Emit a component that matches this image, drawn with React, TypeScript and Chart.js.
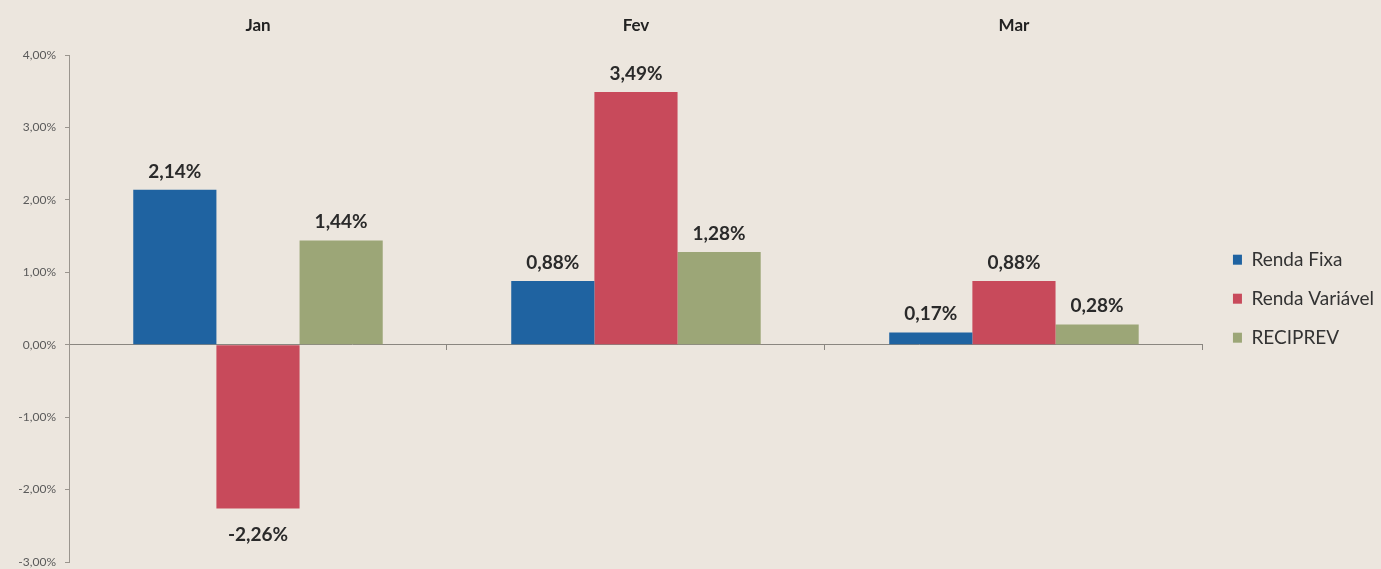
import React, { useEffect, useRef } from "react";
import { Chart, registerables } from "chart.js";

Chart.register(...registerables);

const categories = ["Jan", "Fev", "Mar"];
const rendaFixa = [2.14, 0.88, 0.17];
const rendaVariavel = [-2.26, 3.49, 0.88];
const reciprev = [1.44, 1.28, 0.28];
const seriesNames = ["Renda Fixa", "Renda Variável", "RECIPREV"];
const yTicks = [-3, -2, -1, 0, 1, 2, 3, 4];

const fmt = (v: number) => v.toFixed(2).replace(".", ",") + "%";

const labelPlugin = {
  id: "barLabels",
  afterDatasetsDraw(chart: any) {
    const ctx = chart.ctx;
    ctx.save();
    ctx.font = "bold 19px Lato";
    ctx.fillStyle = "#2a2a2a";
    ctx.textAlign = "center";
    ctx.textBaseline = "alphabetic";
    chart.data.datasets.forEach((ds: any, i: number) => {
      const meta = chart.getDatasetMeta(i);
      meta.data.forEach((el: any, j: number) => {
        const v = ds.data[j] as number;
        if (v >= 0) {
          ctx.fillText(fmt(v), el.x, el.y - 12);
        } else {
          ctx.fillText(fmt(v), el.x, el.y + 33);
        }
      });
    });
    ctx.restore();
  },
};

export default function App() {
  const ref = useRef<HTMLCanvasElement>(null);
  useEffect(() => {
    document.body.style.margin = "0";
    document.body.style.background = "#ece6de";
    const chart = new Chart(ref.current!, {
      type: "bar",
      data: {
        labels: categories,
        datasets: [
          { label: seriesNames[0], data: rendaFixa, backgroundColor: "#1f63a1", xAxisID: "x" },
          { label: seriesNames[1], data: rendaVariavel, backgroundColor: "#c84a5b", xAxisID: "x" },
          { label: seriesNames[2], data: reciprev, backgroundColor: "#9ca677", xAxisID: "x" },
        ],
      },
      options: {
        responsive: false,
        animation: false,
        layout: { padding: { top: 0, bottom: 7, right: -3, left: 0 } },
        datasets: { bar: { categoryPercentage: 0.66, barPercentage: 1.0 } },
        plugins: {
          tooltip: { enabled: false },
          legend: {
            position: "right",
            align: "center",
            title: { display: true, text: "", padding: { top: 21, bottom: 0 }, font: { size: 12 } },
            labels: {
              boxWidth: 9,
              boxHeight: 10,
              padding: 20,
              color: "#333",
              font: { family: "Lato", size: 19 },
            },
          },
        },
        scales: {
          x: {
            position: "top",
            grid: { display: false },
            border: { display: false },
            ticks: { color: "#222", font: { family: "Lato", size: 17, weight: "bold" }, padding: 11 },
            afterFit: (s: any) => { s.height = 55; },
          },
          x2: {
            type: "category",
            position: { y: 0 } as any,
            offset: true,
            grid: { offset: true, drawOnChartArea: false, drawTicks: true, tickLength: 5, color: "#8a8680" },
            border: { display: true, color: "#8a8680" },
            ticks: { display: false },
            afterFit: (s: any) => { s.height = 0; s.paddingLeft = 0; s.paddingRight = 0; },
          },
          y: {
            min: -3,
            max: 4,
            afterBuildTicks: (s: any) => { s.ticks = yTicks.map((v) => ({ value: v })); },
            grid: { drawOnChartArea: false, drawTicks: true, tickLength: 4, color: "#9a958e" },
            border: { display: true, color: "#9a958e" },
            ticks: {
              color: "#5a5a5a",
              font: { family: "Lato", size: 12 },
              padding: 9,
              callback: (v: any) => fmt(Number(v)),
            },
            afterFit: (s: any) => { s.width = 69; s.paddingTop = 0; s.paddingBottom = 0; },
          },
          ySpacer: {
            position: "right",
            display: true,
            grid: { display: false },
            border: { display: false },
            ticks: { display: false },
            afterFit: (s: any) => { s.width = 10; s.paddingTop = 0; s.paddingBottom = 0; },
          },
        },
      },
      plugins: [labelPlugin],
    } as any);
    return () => chart.destroy();
  }, []);
  return (
    <div style={{ width: 1381, height: 569, background: "#ece6de" }}>
      <canvas ref={ref} width={1381} height={569} />
    </div>
  );
}
